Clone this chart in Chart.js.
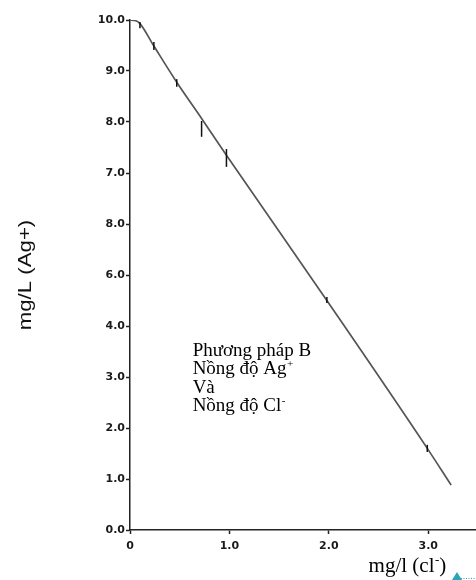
<!DOCTYPE html>
<html>
<head>
<meta charset="utf-8">
<script src="https://cdn.jsdelivr.net/npm/chart.js@4/dist/chart.umd.min.js"></script>
<style>
  html, body { margin: 0; padding: 0; background: #fff; }
  canvas { display: block; }
</style>
</head>
<body>
<canvas id="agChart" width="476" height="580"></canvas>
<script>
// curve: Cl- (mg/l) vs Ag+ (mg/L)
const clX = [0, 0.05, 0.1, 0.24, 0.47, 0.72, 0.97, 1.98, 2.99, 3.23];
const agY = [10.0, 9.99, 9.93, 9.49, 8.78, 8.07, 7.35, 4.5, 1.6, 0.88];

// small vertical error marks
const barX = [0.1, 0.24, 0.47, 0.72, 0.97, 1.98, 2.99];
const barLow = [9.84, 9.41, 8.69, 7.71, 7.12, 4.45, 1.53];
const barHigh = [9.96, 9.57, 8.84, 8.02, 7.47, 4.57, 1.67];

// tick labels as printed in the original (index = value)
const yTickLabels = ['0.0', '1.0', '2.0', '3.0', '4.0', '6.0', '8.0', '7.0', '8.0', '9.0', '10.0'];
const xTickLabels = ['0', '1.0', '2.0', '3.0'];

const noteLines = [
  [['Phương pháp B', false]],
  [['Nồng độ Ag', false], ['+', true]],
  [['Và', false]],
  [['Nồng độ Cl', false], ['-', true]]
];
const xTitle = [['mg/l (cl', false], ['-', true], [')', false]];
const yTitle = 'mg/L (Ag+)';

const serif = '"Liberation Serif", "Times New Roman", serif';

function drawParts(ctx, parts, x, y, size) {
  let cx = x;
  parts.forEach(([t, sup]) => {
    if (sup) {
      ctx.font = `${Math.round(size * 0.6)}px ${serif}`;
      ctx.fillText(t, cx + 0.5, y - size * 0.38);
    } else {
      ctx.font = `${size}px ${serif}`;
      ctx.fillText(t, cx, y);
    }
    cx += ctx.measureText(t).width + (sup ? 0.5 : 0);
  });
}

const extras = {
  id: 'extras',
  afterDatasetsDraw(chart) {
    const { ctx, scales: { x, y } } = chart;
    ctx.save();
    ctx.strokeStyle = '#111';
    ctx.lineWidth = 1.5;
    barX.forEach((bx, i) => {
      const px = x.getPixelForValue(bx);
      ctx.beginPath();
      ctx.moveTo(px, y.getPixelForValue(barLow[i]));
      ctx.lineTo(px, y.getPixelForValue(barHigh[i]));
      ctx.stroke();
    });
    ctx.restore();
  },
  afterDraw(chart) {
    const { ctx, chartArea, scales: { x, y } } = chart;
    ctx.save();
    ctx.fillStyle = '#000';
    ctx.textAlign = 'left';
    ctx.textBaseline = 'alphabetic';

    // note block
    const nx = x.getPixelForValue(0.63);
    const ny = y.getPixelForValue(3.42);
    noteLines.forEach((parts, i) => drawParts(ctx, parts, nx, ny + i * 18.5, 19));

    // x title
    drawParts(ctx, xTitle, x.getPixelForValue(2.4), chartArea.bottom + 42, 21);

    // y title, rotated and a little stretched like the original
    ctx.save();
    ctx.translate(31, (chartArea.top + chartArea.bottom) / 2);
    ctx.rotate(-Math.PI / 2);
    ctx.scale(1.27, 1);
    ctx.font = '17.5px "Liberation Sans", Arial, sans-serif';
    ctx.textAlign = 'center';
    ctx.fillStyle = '#111';
    ctx.fillText(yTitle, 0, 0);
    ctx.restore();

    // little teal marker at the bottom edge
    ctx.fillStyle = '#2aa6b8';
    ctx.beginPath();
    ctx.moveTo(457, 572);
    ctx.lineTo(452, 580);
    ctx.lineTo(462, 580);
    ctx.closePath();
    ctx.fill();
    ctx.strokeStyle = '#2aa6b8';
    ctx.setLineDash([1, 1.5]);
    ctx.lineWidth = 1;
    ctx.beginPath();
    ctx.moveTo(461, 578.5);
    ctx.lineTo(476, 578.5);
    ctx.stroke();
    ctx.restore();
  }
};

const tickFont = { family: '"DejaVu Sans", sans-serif', size: 11, weight: 'bold' };

new Chart(document.getElementById('agChart'), {
  type: 'scatter',
  data: {
    datasets: [{
      data: clX.map((v, i) => ({ x: v, y: agY[i] })),
      showLine: true,
      borderColor: '#555',
      borderWidth: 1.7,
      pointRadius: 0,
      cubicInterpolationMode: 'monotone',
      fill: false
    }]
  },
  options: {
    responsive: false,
    animation: false,
    layout: { padding: { top: 20, right: 0, left: 0, bottom: 0 } },
    plugins: { legend: { display: false }, tooltip: { enabled: false } },
    scales: {
      x: {
        type: 'linear',
        min: 0,
        max: 3.48,
        afterFit: s => { s.height = 50; },
        afterBuildTicks: s => { s.ticks = xTickLabels.map((_, i) => ({ value: i })); },
        ticks: {
          callback: v => xTickLabels[v],
          font: tickFont,
          color: '#1a1a1a',
          padding: 6,
          maxRotation: 0
        },
        grid: { drawOnChartArea: false, tickLength: 4, color: '#222', tickWidth: 1.5 },
        border: { color: '#222', width: 1.5 }
      },
      y: {
        type: 'linear',
        min: 0,
        max: 10,
        afterFit: s => { s.width = 130; },
        ticks: {
          stepSize: 1,
          callback: v => yTickLabels[v],
          font: tickFont,
          color: '#1a1a1a',
          padding: 1
        },
        grid: { drawOnChartArea: false, tickLength: 4, color: '#222', tickWidth: 1.5 },
        border: { color: '#222', width: 1.5 }
      }
    }
  },
  plugins: [extras]
});
</script>
</body>
</html>
